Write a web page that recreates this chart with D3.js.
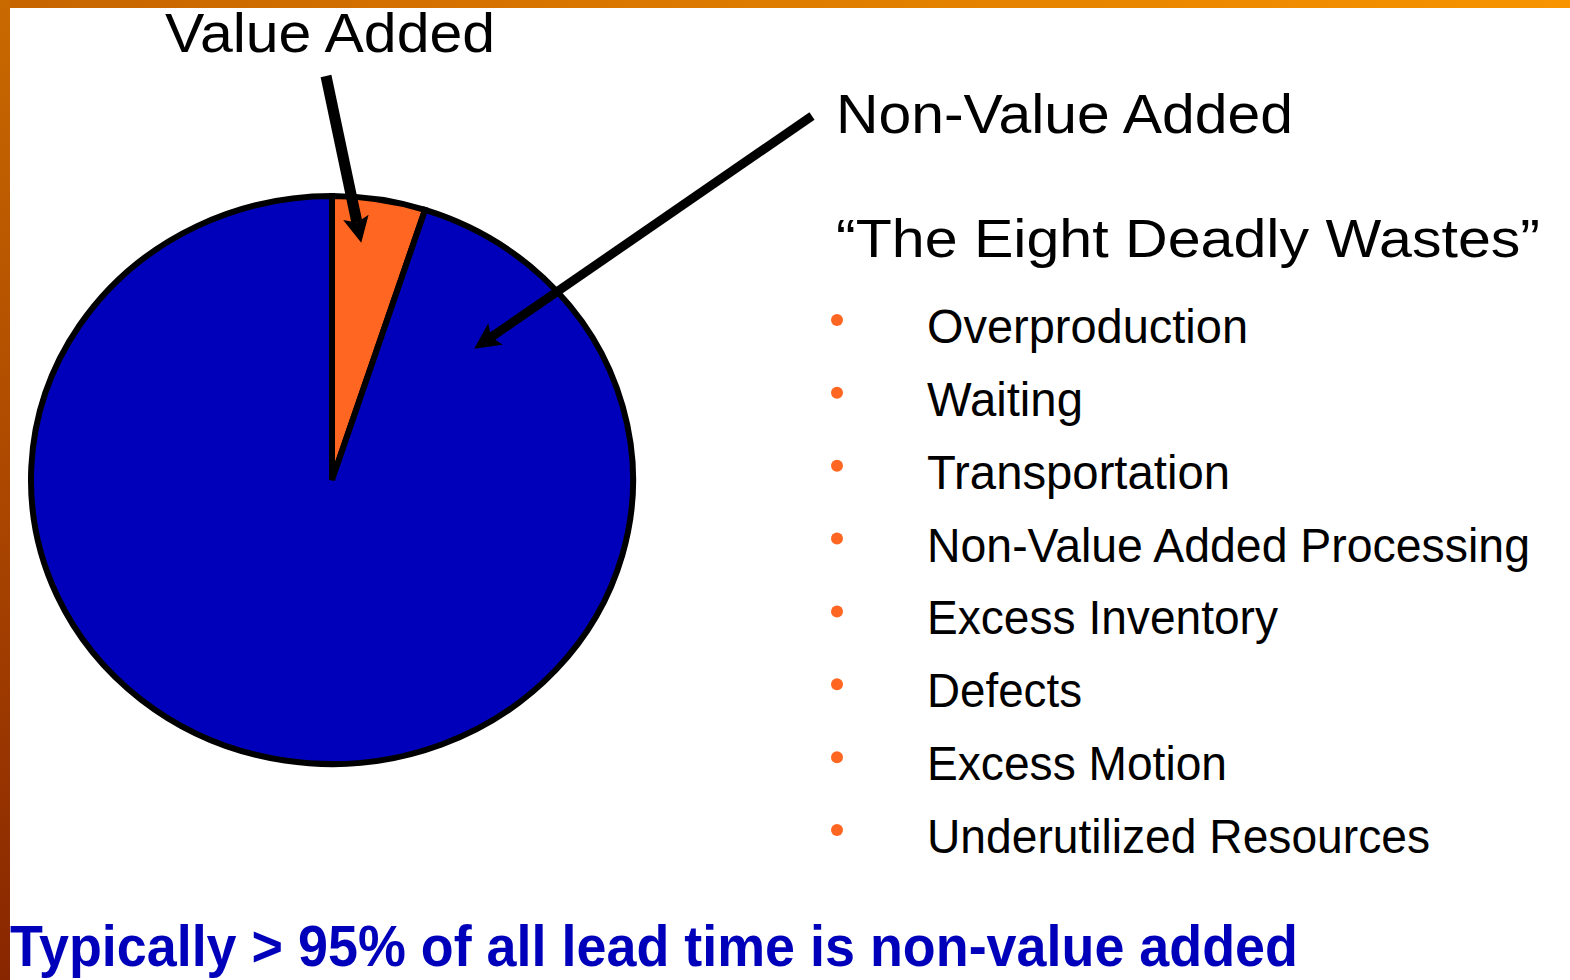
<!DOCTYPE html>
<html>
<head>
<meta charset="utf-8">
<script src="https://cdn.jsdelivr.net/npm/d3@7.9.0/dist/d3.min.js"></script>
<style>
  html, body { margin: 0; padding: 0; background: #fff; }
  svg { display: block; font-family: "Liberation Sans", Arial, sans-serif; }
</style>
</head>
<body>
<svg id="chart" width="1570" height="980"></svg>
<script>
// ── Data ───────────────────────────────────────────────────────────────────
const sliceLabels = ['Value Added', 'Non-Value Added'];
const sliceValues = [5, 95];
const sliceColors = ['#FF6622', '#0000BB'];

const wasteTitle = '\u201CThe Eight Deadly Wastes\u201D';
const wastes = [
  'Overproduction',
  'Waiting',
  'Transportation',
  'Non-Value Added Processing',
  'Excess Inventory',
  'Defects',
  'Excess Motion',
  'Underutilized Resources',
];
const footnote = 'Typically > 95% of all lead time is non-value added';

// ── Layout (sizes / positions only) ────────────────────────────────────────
const W = 1570, H = 980;
const pie = { cx: 332, cy: 480, rx: 301, ry: 284 };
const labelWidths = [330, 457];          // rendered width of each slice label
const wasteWidths = [321, 156, 303, 603, 351, 155, 300, 503];

const svg = d3.select('#chart');

// ── Frame: orange top bar and brown left bar ───────────────────────────────
const defs = svg.append('defs');
const gTop = defs.append('linearGradient').attr('id', 'gTop');
gTop.append('stop').attr('offset', '0%').attr('stop-color', '#C66400');
gTop.append('stop').attr('offset', '100%').attr('stop-color', '#F79400');
const gLeft = defs.append('linearGradient').attr('id', 'gLeft')
  .attr('x1', 0).attr('y1', 0).attr('x2', 0).attr('y2', 1);
gLeft.append('stop').attr('offset', '0%').attr('stop-color', '#C86A00');
gLeft.append('stop').attr('offset', '55%').attr('stop-color', '#A84400');
gLeft.append('stop').attr('offset', '100%').attr('stop-color', '#882600');

svg.append('rect').attr('width', W).attr('height', H).attr('fill', '#fff');
svg.append('rect').attr('width', W).attr('height', 8).attr('fill', 'url(#gTop)');
svg.append('rect').attr('width', 10).attr('height', H).attr('fill', 'url(#gLeft)');

// ── Pie (slightly elliptical, as in the slide) ─────────────────────────────
const pieGen = d3.pie().sort(null).value((d) => d);
const arcData = pieGen(sliceValues);
const arcGen = d3.arc().innerRadius(0).outerRadius(pie.ry);

const pieG = svg.append('g')
  .attr('transform', `translate(${pie.cx},${pie.cy}) scale(${pie.rx / pie.ry},1)`);

pieG.selectAll('path')
  .data(arcData)
  .join('path')
  .attr('d', arcGen)
  .attr('fill', (d, i) => sliceColors[i])
  .attr('stroke', '#000')
  .attr('stroke-width', 6)
  .attr('stroke-linejoin', 'miter')
  .attr('vector-effect', 'non-scaling-stroke');

// point on the pie at a given angle (radians, clockwise from 12 o'clock)
function piePoint(angle, frac) {
  return [
    pie.cx + pie.rx * frac * Math.sin(angle),
    pie.cy - pie.ry * frac * Math.cos(angle),
  ];
}

// ── Slice labels ───────────────────────────────────────────────────────────
const labelPos = [
  { x: 165, y: 52, size: 56 },
  { x: 836, y: 133, size: 56 },
];
svg.selectAll('text.slice-label')
  .data(sliceLabels)
  .join('text')
  .attr('class', 'slice-label')
  .attr('x', (d, i) => labelPos[i].x)
  .attr('y', (d, i) => labelPos[i].y)
  .attr('font-size', (d, i) => labelPos[i].size)
  .attr('textLength', (d, i) => labelWidths[i])
  .attr('lengthAdjust', 'spacingAndGlyphs')
  .attr('fill', '#000')
  .text((d) => d);

// ── Arrows from labels into their slices ───────────────────────────────────
defs.append('marker')
  .attr('id', 'head')
  .attr('viewBox', '0 -5 10 10')
  .attr('refX', 2)
  .attr('refY', 0)
  .attr('markerUnits', 'userSpaceOnUse')
  .attr('markerWidth', 30)
  .attr('markerHeight', 26)
  .attr('orient', 'auto')
  .append('path')
  .attr('d', 'M0,-5L10,0L0,5L2,0Z')
  .attr('fill', '#000');

const arrows = [
  { from: [326, 76], to: piePoint(arcData[0].startAngle + 0.12, 0.83), width: 11 },
  { from: [812, 116], to: piePoint(arcData[1].startAngle + 0.48, 0.65), width: 9 },
];

arrows.forEach((a) => {
  // stop the shaft short so the marker tip lands on the target point
  const dx = a.to[0] - a.from[0], dy = a.to[1] - a.from[1];
  const len = Math.hypot(dx, dy);
  const k = (len - 24) / len;
  svg.append('line')
    .attr('x1', a.from[0]).attr('y1', a.from[1])
    .attr('x2', a.from[0] + dx * k).attr('y2', a.from[1] + dy * k)
    .attr('stroke', '#000')
    .attr('stroke-width', a.width)
    .attr('marker-end', 'url(#head)');
});

// ── Eight wastes list ──────────────────────────────────────────────────────
svg.append('text')
  .attr('x', 836)
  .attr('y', 257)
  .attr('font-size', 54)
  .attr('textLength', 704)
  .attr('lengthAdjust', 'spacingAndGlyphs')
  .attr('fill', '#000')
  .text(wasteTitle);

const yItem = d3.scaleLinear().domain([0, wastes.length - 1]).range([343, 853]);

const items = svg.append('g')
  .selectAll('g')
  .data(wastes)
  .join('g')
  .attr('transform', (d, i) => `translate(0,${yItem(i)})`);

items.append('circle')
  .attr('cx', 837)
  .attr('cy', -23)
  .attr('r', 6)
  .attr('fill', '#FF6622');

items.append('text')
  .attr('x', 927)
  .attr('y', 0)
  .attr('font-size', 48)
  .attr('textLength', (d, i) => wasteWidths[i])
  .attr('lengthAdjust', 'spacingAndGlyphs')
  .attr('fill', '#000')
  .text((d) => d);

// ── Footnote ───────────────────────────────────────────────────────────────
svg.append('text')
  .attr('x', 10)
  .attr('y', 966)
  .attr('font-size', 58)
  .attr('font-weight', 'bold')
  .attr('textLength', 1288)
  .attr('lengthAdjust', 'spacingAndGlyphs')
  .attr('fill', '#0000BB')
  .text(footnote);
</script>
</body>
</html>
